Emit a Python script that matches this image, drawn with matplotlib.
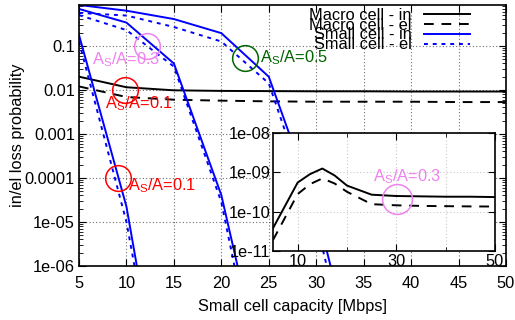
import numpy as np
import matplotlib
matplotlib.use("Agg")
import matplotlib.pyplot as plt
from matplotlib.ticker import FixedLocator, FixedFormatter, LogLocator, NullFormatter, NullLocator

plt.rcParams['font.family'] = ['Liberation Sans', 'DejaVu Sans']
plt.rcParams['mathtext.fontset'] = 'custom'
plt.rcParams['mathtext.rm'] = 'Liberation Sans'
plt.rcParams['mathtext.it'] = 'Liberation Sans'
plt.rcParams['mathtext.default'] = 'regular'

FS = 11.8

# ---------------- data ----------------
# Macro cell (main plot)
x_macro = [5, 10, 15, 20, 25, 30, 35, 40, 45, 50]
macro_in = [0.020, 0.0115, 0.0098, 0.0095, 0.0094, 0.0093, 0.0093, 0.0092, 0.0092, 0.0092]
macro_el = [0.012, 0.0069, 0.0060, 0.0057, 0.0055, 0.0054, 0.0054, 0.0054, 0.0053, 0.0053]

# Small cell curves (main plot), A_S/A = 0.1, 0.3, 0.5
x_s01 = [5, 10, 15]
s01_in = [10**-0.75, 10**-4.65, 10**-10.8]
s01_el = [10**-0.90, 10**-5.0, 10**-10.9]

x_s03 = [5, 10, 15, 20, 25]
s03_in = [10**-0.16, 10**-0.47, 10**-1.40, 10**-4.39, 10**-9.1]
s03_el = [10**-0.30, 10**-0.64, 10**-1.47, 10**-4.55, 10**-9.8]

x_s05 = [5, 10, 15, 20, 25, 30, 35]
s05_in = [10**-0.07, 10**-0.20, 10**-0.39, 10**-0.71, 10**-1.70, 10**-4.7, 10**-9.0]
s05_el = [10**-0.25, 10**-0.31, 10**-0.57, 10**-0.90, 10**-1.85, 10**-5.0, 10**-9.5]

# Inset (macro cell, A_S/A = 0.3)
x_inset = [5, 10, 12.5, 15, 17.5, 20, 25, 30, 35, 40, 45, 50]
inset_in = [3.8e-11, 5.5e-10, 9.0e-10, 1.25e-9, 8.3e-10, 4.6e-10, 2.7e-10, 2.5e-10,
            2.45e-10, 2.4e-10, 2.4e-10, 2.35e-10]
inset_el = [1.9e-11, 2.8e-10, 5.0e-10, 7.0e-10, 5.2e-10, 3.2e-10, 1.55e-10, 1.45e-10,
            1.4e-10, 1.38e-10, 1.36e-10, 1.35e-10]

x_ticks = [5, 10, 15, 20, 25, 30, 35, 40, 45, 50]
y_ticks = [1e-6, 1e-5, 1e-4, 1e-3, 1e-2, 1e-1]
y_ticklabels = ['1e-06', '1e-05', '0.0001', '0.001', '0.01', '0.1']
inset_xticks = [10, 30, 50]
inset_yticks = [1e-11, 1e-10, 1e-9, 1e-8]
inset_yticklabels = ['1e-11', '1e-10', '1e-09', '1e-08']

legend_labels = ['Macro cell - in', 'Macro cell - el', 'Small cell - in', 'Small cell - el']

# annotations: circle centers and labels
ann_circle_x = [12.2, 9.8, 22.5, 9.15]
ann_circle_y = [0.1, 0.01, 0.052, 1e-4]
ann_text_x = [6.37, 7.74, 24.07, 10.16]
ann_text_y = [0.048, 0.0050, 0.053, 6.8e-5]
ann_text = [r'A$_S$/A=0.3', r'A$_S$/A=0.1', r'A$_S$/A=0.5', r'A$_S$/A=0.1']
ann_color = ['#ee82ee', '#ff0000', '#006400', '#ff0000']

# ---------------- figure ----------------
W, H = 515, 320
fig = plt.figure(figsize=(W / 100, H / 100), dpi=100)
ax = fig.add_axes([79 / W, 1 - 266 / H, (506 - 79) / W, (266 - 5) / H])

ax.set_yscale('log')
ax.set_xlim(5, 50)
ax.set_ylim(1e-6, 0.85)

blue = '#0000ff'
lw = 1.4
ax.plot(x_macro, macro_in, color='black', lw=lw, label=legend_labels[0])
ax.plot(x_macro, macro_el, color='black', lw=lw, ls=(0, (5, 4)), label=legend_labels[1])
ax.plot(x_s01, s01_in, color=blue, lw=lw, label=legend_labels[2])
ax.plot(x_s01, s01_el, color=blue, lw=lw, ls=(0, (2, 2.5)), label=legend_labels[3])
for xs, yi, ye in [(x_s03, s03_in, s03_el), (x_s05, s05_in, s05_el)]:
    ax.plot(xs, yi, color=blue, lw=lw)
    ax.plot(xs, ye, color=blue, lw=lw, ls=(0, (2, 2.5)))

for cx, cy, c in zip(ann_circle_x, ann_circle_y, ann_color):
    ax.plot([cx], [cy], ls='none', marker='o', ms=18.5, mfc='none', mec=c, mew=1.1)
for tx, ty, t, c in zip(ann_text_x, ann_text_y, ann_text, ann_color):
    ax.text(tx, ty, t, color=c, fontsize=FS, ha='left', va='center')

ax.xaxis.set_major_locator(FixedLocator(x_ticks))
ax.yaxis.set_major_locator(FixedLocator(y_ticks))
ax.yaxis.set_major_formatter(FixedFormatter(y_ticklabels))
ax.yaxis.set_minor_locator(LogLocator(base=10, subs=np.arange(2, 10), numticks=20))
ax.yaxis.set_minor_formatter(NullFormatter())
ax.tick_params(which='both', direction='in', top=True, right=True, labelsize=FS)
ax.tick_params(axis='x', pad=7)
ax.tick_params(axis='y', pad=3)
ax.tick_params(which='major', length=5)
ax.tick_params(which='minor', length=3)
ax.grid(True, which='major', color='#707070', ls=(0, (1, 2)), lw=0.8)
for s in ax.spines.values():
    s.set_linewidth(1.2)

ax.set_xlabel('Small cell capacity [Mbps]', fontsize=FS, labelpad=6)
ax.set_ylabel('in/el loss probability', fontsize=FS, labelpad=0)

leg = ax.legend(loc='upper right', frameon=False, markerfirst=False, fontsize=FS,
                labelspacing=-0.31, handlelength=2.8, handletextpad=0.75,
                borderpad=0.0, borderaxespad=0.0, bbox_to_anchor=(0.915, 0.99))
for t in leg.get_texts():
    t.set_ha('right')

# ---------------- inset ----------------
ia = fig.add_axes([273 / W, 1 - 251 / H, (495 - 273) / W, (251 - 133) / H])
ia.set_yscale('log')
ia.set_xlim(5, 50)
ia.set_ylim(1e-11, 1e-8)
ia.plot(x_inset, inset_in, color='black', lw=lw)
ia.plot(x_inset, inset_el, color='black', lw=lw, ls=(0, (5, 4)))
ia.plot([30.1], [2.1e-10], ls='none', marker='o', ms=21.5, mfc='none', mec='#ee82ee', mew=1.1)
ia.text(25.3, 7.8e-10, r'A$_S$/A=0.3', color='#ee82ee', fontsize=FS, ha='left', va='center')
ia.xaxis.set_major_locator(FixedLocator(inset_xticks))
ia.xaxis.set_minor_locator(FixedLocator([20, 40]))
ia.yaxis.set_major_locator(FixedLocator(inset_yticks))
ia.yaxis.set_major_formatter(FixedFormatter(inset_yticklabels))
ia.yaxis.set_minor_locator(NullLocator())
ia.tick_params(which='both', direction='in', top=True, right=True, labelsize=FS, pad=2)
ia.tick_params(which='major', length=5)
ia.tick_params(which='minor', length=3)
ia.grid(True, which='both', color='#c8c8c8', ls=(0, (1, 2)), lw=0.8)
for s in ia.spines.values():
    s.set_linewidth(1.2)

fig.savefig('out.png', dpi=100)
